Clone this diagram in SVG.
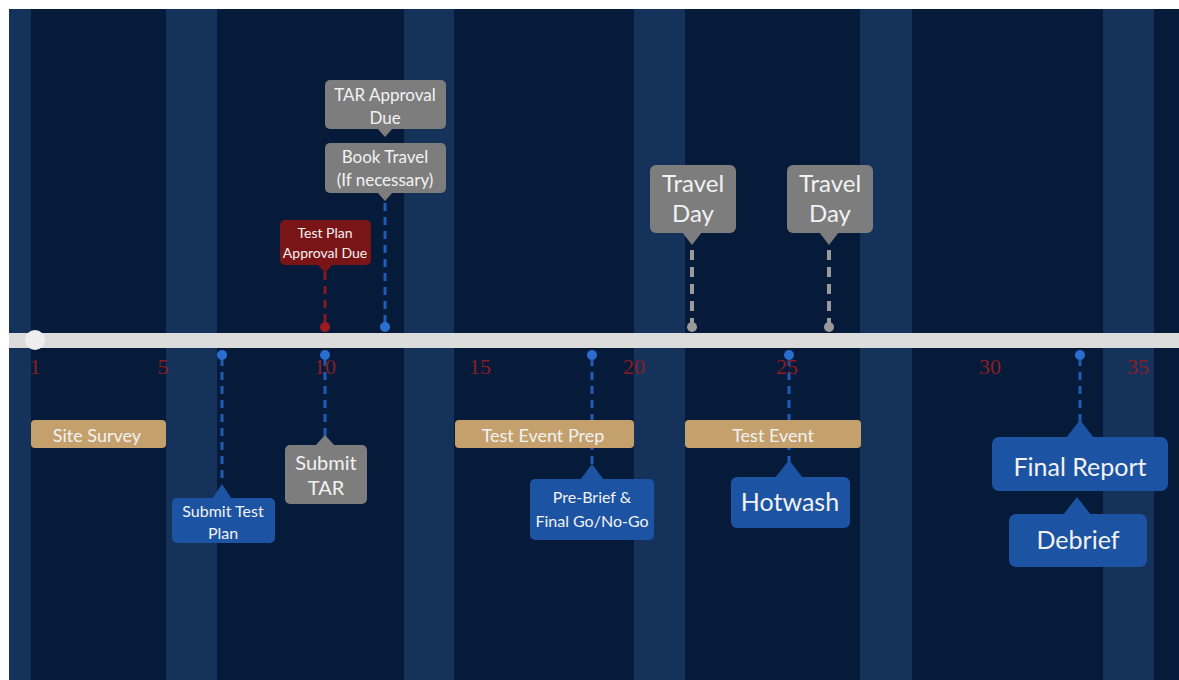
<svg xmlns="http://www.w3.org/2000/svg" width="1179" height="680" viewBox="0 0 1179 680">
<style>
.bg{fill:#061a3a}
.band{fill:#15335a}
.t{font-family:Lato,"Noto Sans",sans-serif;fill:#f2f2f2;text-anchor:middle}
.num{font-family:"Liberation Serif",serif;fill:#8b1d24;font-size:22px;text-anchor:middle}
.blue{fill:#1c54a3}
.gray{fill:#7d7d7d}
.red{fill:#7a1517}
.gold{fill:#c4a06c}
.dB{stroke:#1f5cb3;stroke-width:3;stroke-dasharray:8 6;fill:none}
.dR{stroke:#861a22;stroke-width:3;stroke-dasharray:8 6;fill:none}
.dG{stroke:#9a9a9a;stroke-width:4;stroke-dasharray:10 7;fill:none}
</style>
<rect x="0" y="0" width="1179" height="680" fill="#ffffff"/>
<rect class="bg" x="9" y="9" width="1170" height="671"/>
<g id="bands">
<rect class="band" x="9" y="9" width="22" height="671"/>
<rect class="band" x="166" y="9" width="51" height="671"/>
<rect class="band" x="404" y="9" width="50" height="671"/>
<rect class="band" x="634" y="9" width="51" height="671"/>
<rect class="band" x="860" y="9" width="52" height="671"/>
<rect class="band" x="1103" y="9" width="51" height="671"/>
</g>
<g id="connectors">
<line class="dR" x1="325" y1="272" x2="325" y2="324"/>
<line class="dB" x1="385" y1="203" x2="385" y2="324"/>
<line class="dG" x1="692" y1="250" x2="692" y2="324"/>
<line class="dG" x1="829" y1="250" x2="829" y2="324"/>
<line class="dB" x1="222" y1="358" x2="222" y2="483"/>
<line class="dB" x1="325" y1="358" x2="325" y2="437"/>
<line class="dB" x1="592" y1="358" x2="592" y2="465"/>
<line class="dB" x1="789" y1="358" x2="789" y2="462"/>
<line class="dB" x1="1080" y1="358" x2="1080" y2="422"/>
</g>
<g id="timeline">
<rect x="9" y="333" width="1170" height="15" fill="#dcdcdc"/>
<circle cx="35" cy="340" r="10" fill="#eeeeee"/>
<circle cx="325" cy="327" r="5" fill="#9b1c22"/>
<circle cx="385" cy="327" r="5" fill="#2a6fd0"/>
<circle cx="692" cy="327" r="5" fill="#9a9a9a"/>
<circle cx="829" cy="327" r="5" fill="#9a9a9a"/>
<circle cx="222" cy="355" r="5" fill="#2a6fd0"/>
<circle cx="325" cy="355" r="5" fill="#2a6fd0"/>
<circle cx="592" cy="355" r="5" fill="#2a6fd0"/>
<circle cx="789" cy="355" r="5" fill="#2a6fd0"/>
<circle cx="1080" cy="355" r="5" fill="#2a6fd0"/>
<text class="num" x="35" y="374">1</text>
<text class="num" x="163" y="374">5</text>
<text class="num" x="325" y="374">10</text>
<text class="num" x="480" y="374">15</text>
<text class="num" x="634" y="374">20</text>
<text class="num" x="787" y="374">25</text>
<text class="num" x="990" y="374">30</text>
<text class="num" x="1138" y="374">35</text>
</g>
<g id="tar-approval">
<rect class="gray" x="325" y="80" width="121" height="49" rx="5"/>
<polygon class="gray" points="377,128 393,128 385,137"/>
<text class="t" x="385" y="101" font-size="17">TAR Approval</text>
<text class="t" x="385" y="124" font-size="17">Due</text>
</g>
<g id="book-travel">
<rect class="gray" x="325" y="143" width="121" height="50" rx="5"/>
<polygon class="gray" points="377,192 393,192 385,201"/>
<text class="t" x="385" y="163" font-size="17">Book Travel</text>
<text class="t" x="385" y="186" font-size="17">(If necessary)</text>
</g>
<g id="test-plan-approval">
<rect class="red" x="280" y="220" width="91" height="45" rx="5"/>
<polygon class="red" points="317,264 333,264 325,273"/>
<text class="t" x="325" y="238" font-size="14">Test Plan</text>
<text class="t" x="325" y="258" font-size="14">Approval Due</text>
</g>
<g id="travel-day-1">
<rect class="gray" x="650" y="165" width="86" height="68" rx="6"/>
<polygon class="gray" points="682,232 702,232 692,245"/>
<text class="t" x="693" y="192" font-size="24">Travel</text>
<text class="t" x="693" y="222" font-size="24">Day</text>
</g>
<g id="travel-day-2">
<rect class="gray" x="787" y="165" width="86" height="68" rx="6"/>
<polygon class="gray" points="819,232 839,232 829,245"/>
<text class="t" x="830" y="192" font-size="24">Travel</text>
<text class="t" x="830" y="222" font-size="24">Day</text>
</g>
<g id="site-survey">
<rect class="gold" x="31" y="420" width="135" height="28" rx="4"/>
<text class="t" x="97" y="442" font-size="18">Site Survey</text>
</g>
<g id="test-event-prep">
<rect class="gold" x="455" y="420" width="179" height="28" rx="4"/>
<text class="t" x="543" y="442" font-size="18">Test Event Prep</text>
</g>
<g id="test-event">
<rect class="gold" x="685" y="420" width="176" height="28" rx="4"/>
<text class="t" x="773" y="442" font-size="18">Test Event</text>
</g>
<g id="submit-test-plan">
<rect class="blue" x="172" y="498" width="103" height="45" rx="5"/>
<polygon class="blue" points="212,499 232,499 222,484"/>
<text class="t" x="223" y="517" font-size="16">Submit Test</text>
<text class="t" x="223" y="539" font-size="16">Plan</text>
</g>
<g id="submit-tar">
<rect class="gray" x="285" y="445" width="82" height="59" rx="5"/>
<polygon class="gray" points="315,446 335,446 325,435"/>
<text class="t" x="326" y="470" font-size="20">Submit</text>
<text class="t" x="326" y="495" font-size="20">TAR</text>
</g>
<g id="pre-brief">
<rect class="blue" x="530" y="479" width="124" height="61" rx="5"/>
<polygon class="blue" points="580,480 604,480 592,464"/>
<text class="t" x="592" y="503" font-size="16">Pre-Brief &amp;</text>
<text class="t" x="592" y="527" font-size="16">Final Go/No-Go</text>
</g>
<g id="hotwash">
<rect class="blue" x="731" y="477" width="119" height="51" rx="6"/>
<polygon class="blue" points="775,478 803,478 789,460"/>
<text class="t" x="790" y="511" font-size="25">Hotwash</text>
</g>
<g id="final-report">
<rect class="blue" x="992" y="437" width="176" height="54" rx="7"/>
<polygon class="blue" points="1066,438 1094,438 1080,420"/>
<text class="t" x="1080" y="476" font-size="25">Final Report</text>
</g>
<g id="debrief">
<rect class="blue" x="1009" y="514" width="138" height="53" rx="7"/>
<polygon class="blue" points="1063,515 1091,515 1077,497"/>
<text class="t" x="1078" y="549" font-size="25">Debrief</text>
</g>
</svg>
